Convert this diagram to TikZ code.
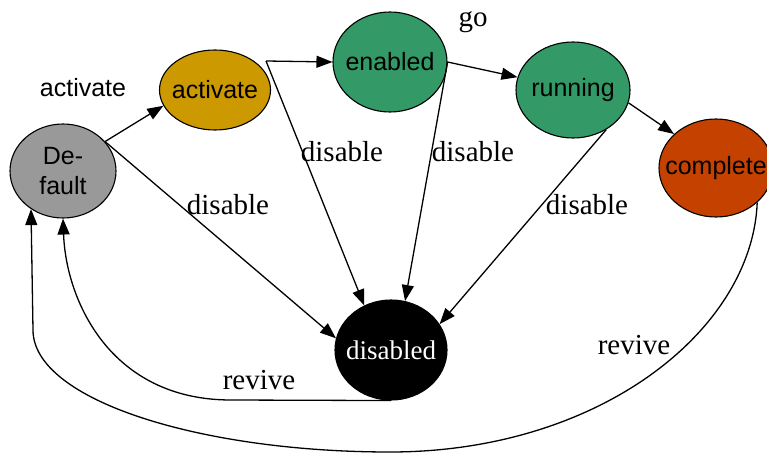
\documentclass[tikz,border=0pt]{standalone}
\usepackage{fontspec}
\setmainfont{Liberation Serif}
\setsansfont{Liberation Sans}
\usetikzlibrary{shapes.geometric,arrows.meta,calc,positioning}
\definecolor{stgray}{RGB}{153,153,153}
\definecolor{stgold}{RGB}{204,153,0}
\definecolor{stgreen}{RGB}{51,153,102}
\definecolor{storange}{RGB}{196,65,0}

\begin{document}
\begin{tikzpicture}[x=1pt,y=-1pt,
    state/.style={ellipse,draw,line width=1.1pt,inner sep=0pt},
    stxt/.style={inner sep=0pt,align=center,font=\sffamily\fontsize{25}{30}\selectfont},
    trans/.style={-{Triangle[length=16pt,width=12pt]},line width=1.3pt},
    lbl/.style={inner sep=0pt,font=\fontsize{29}{32}\selectfont}]
        \useasboundingbox (0,0) rectangle (767,457);
        %States
        \node[state,fill=stgray,minimum width=106pt,minimum height=94pt,
          label={[stxt]center:De-\\fault}] (default) at (63,171) {};
        \node[state,fill=stgold,minimum width=111pt,minimum height=80pt,
          label={[stxt]center:activate}] (activate) at (215,90) {};
        \node[state,fill=stgreen,minimum width=114pt,minimum height=100pt,
          label={[stxt]center:enabled}] (enabled) at (390,62) {};
        \node[state,fill=stgreen,minimum width=114pt,minimum height=96pt,
          label={[stxt]center:running}] (running) at (573,90) {};
        \node[state,fill=storange,minimum width=114pt,minimum height=98pt,
          label={[stxt]center:complete}] (complete) at (716,168) {};
        \node[state,fill=black,minimum width=112pt,minimum height=100pt,
          label={[stxt,text=white,font=\fontsize{27}{30}\selectfont]center:disabled}] (disabled) at (391,350) {};
        \coordinate (actout) at (266,61);
        %Forward
        \draw[trans] (default.35) -- (activate.197);
        \draw[trans] (actout) -- (enabled.west);
        \draw[trans] (enabled.east) -- (running.167);
        \draw[trans] (running.-13) -- (complete.141);
        %Disable
        \draw[trans] (default.35) -- (disabled.168);
        \draw[trans] (actout) -- (disabled.121);
        \draw[trans] (enabled.east) -- (disabled.74);
        \draw[trans] (running.-50) -- (disabled.28);
        %Revive
        \draw[trans] (disabled.south) -- (231,400) .. controls (110,400) and (66,300) .. (default.south);
        \draw[trans] (complete.-40) .. controls (752,330) and (600,452) .. (390,452)
          .. controls (200,452) and (33,400) .. (33,330) -- (default.230);
        %Labels
        \node[stxt] (lactivate) at (83,88) {activate};
        \node[lbl] (lgo) at (473,22) {go};
        \node[lbl] (ldisa) at (342,152) {disable};
        \node[lbl] (ldisb) at (473,152) {disable};
        \node[lbl] (ldisc) at (228,205) {disable};
        \node[lbl] (ldisd) at (587,205) {disable};
        \node[lbl] (lrevivea) at (259,380) {revive};
        \node[lbl] (lreviveb) at (634,345) {revive};
\end{tikzpicture}
\end{document}
